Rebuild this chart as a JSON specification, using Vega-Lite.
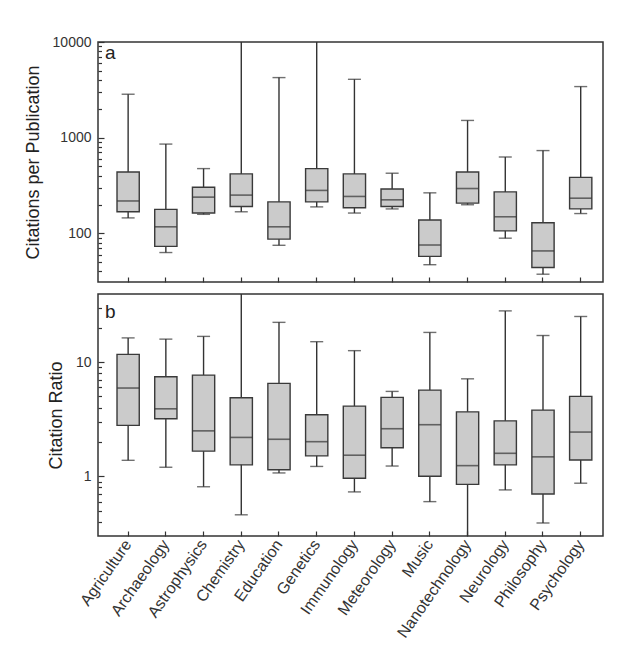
{
  "$schema": "https://vega.github.io/schema/vega-lite/v6.json",
  "padding": {"left": 23, "top": 34, "right": 30, "bottom": 5},
  "spacing": 9,
  "datasets": {
    "cites": [
      {"field": "Agriculture", "lower": 145, "q1": 168, "median": 218, "q3": 438, "upper": 2845},
      {"field": "Archaeology", "lower": 63, "q1": 73, "median": 117, "q3": 178, "upper": 857},
      {"field": "Astrophysics", "lower": 158, "q1": 163, "median": 239, "q3": 303, "upper": 475},
      {"field": "Chemistry", "lower": 168, "q1": 191, "median": 251, "q3": 418, "upper": 20000},
      {"field": "Education", "lower": 75, "q1": 87, "median": 117, "q3": 213, "upper": 4246},
      {"field": "Genetics", "lower": 189, "q1": 213, "median": 281, "q3": 475, "upper": 20000},
      {"field": "Immunology", "lower": 163, "q1": 185, "median": 243, "q3": 418, "upper": 4074},
      {"field": "Meteorology", "lower": 180, "q1": 191, "median": 224, "q3": 291, "upper": 425},
      {"field": "Music", "lower": 47, "q1": 57.5, "median": 75.5, "q3": 138, "upper": 265},
      {"field": "Nanotechnology", "lower": 199, "q1": 207, "median": 294, "q3": 438, "upper": 1514},
      {"field": "Neurology", "lower": 89, "q1": 106, "median": 149, "q3": 271, "upper": 628},
      {"field": "Philosophy", "lower": 37.4, "q1": 44, "median": 65.5, "q3": 129, "upper": 733},
      {"field": "Psychology", "lower": 161, "q1": 180, "median": 233, "q3": 385, "upper": 3420}
    ],
    "ratio": [
      {"field": "Agriculture", "lower": 1.38, "q1": 2.79, "median": 5.93, "q3": 11.7, "upper": 16.3},
      {"field": "Archaeology", "lower": 1.2, "q1": 3.19, "median": 3.9, "q3": 7.44, "upper": 15.9},
      {"field": "Astrophysics", "lower": 0.81, "q1": 1.66, "median": 2.5, "q3": 7.7, "upper": 16.8},
      {"field": "Chemistry", "lower": 0.46, "q1": 1.26, "median": 2.19, "q3": 4.87, "upper": 100},
      {"field": "Education", "lower": 1.07, "q1": 1.14, "median": 2.11, "q3": 6.51, "upper": 22.3},
      {"field": "Genetics", "lower": 1.22, "q1": 1.51, "median": 2.01, "q3": 3.46, "upper": 15.1},
      {"field": "Immunology", "lower": 0.73, "q1": 0.96, "median": 1.53, "q3": 4.12, "upper": 12.6},
      {"field": "Meteorology", "lower": 1.23, "q1": 1.78, "median": 2.61, "q3": 4.91, "upper": 5.54},
      {"field": "Music", "lower": 0.6, "q1": 1.0, "median": 2.83, "q3": 5.69, "upper": 18.2},
      {"field": "Nanotechnology", "lower": 0.1, "q1": 0.85, "median": 1.24, "q3": 3.67, "upper": 7.14},
      {"field": "Neurology", "lower": 0.76, "q1": 1.26, "median": 1.59, "q3": 3.06, "upper": 28.1},
      {"field": "Philosophy", "lower": 0.39, "q1": 0.7, "median": 1.48, "q3": 3.8, "upper": 17.1},
      {"field": "Psychology", "lower": 0.87, "q1": 1.39, "median": 2.44, "q3": 5.01, "upper": 25.1}
    ]
  },
  "vconcat": [
    {
      "width": 505,
      "height": 240,
      "data": {"name": "cites"},
      "title": {"text": "a", "anchor": "start", "frame": "group", "baseline": "top", "offset": -28, "dx": 7, "fontSize": 19, "fontWeight": "normal", "color": "#222"},
      "encoding": {
        "x": {
          "field": "field", "type": "nominal", "sort": null,
          "scale": {"paddingInner": 0.41, "paddingOuter": 0.4, "align": 0.63},
          "axis": {"labels": false, "title": null}
        }
      },
      "resolve": {"axis": {"y": "independent"}},
      "layer": [
        {
          "mark": {"type": "rule", "color": "#333", "strokeWidth": 1.4, "clip": true},
          "encoding": {
            "y": {
              "field": "lower", "type": "quantitative",
              "scale": {"type": "log", "domain": [31, 10000], "nice": false},
              "axis": {
                "title": "Citations per Publication",
                "orient": "left",
                "format": "d",
                "values": [100, 1000, 10000],
                "tickSize": -6
              }
            },
            "y2": {"field": "upper"}
          }
        },
        {
          "mark": {"type": "bar", "fill": "#cbcbcb", "stroke": "#3a3a3a", "strokeWidth": 1.4, "clip": true},
          "encoding": {
            "y": {
              "field": "q1", "type": "quantitative",
              "scale": {"type": "log", "domain": [31, 10000], "nice": false},
              "axis": {
                "title": null,
                "orient": "left",
                "labels": false,
                "values": [40, 50, 60, 70, 80, 90, 200, 300, 400, 500, 600, 700, 800, 900, 2000, 3000, 4000, 5000, 6000, 7000, 8000, 9000],
                "tickSize": -3.5
              }
            },
            "y2": {"field": "q3"}
          }
        },
        {
          "mark": {"type": "tick", "color": "#333", "thickness": 1.6, "size": 22, "clip": true},
          "encoding": {"y": {"field": "median", "type": "quantitative", "scale": {"type": "log", "domain": [31, 10000], "nice": false}, "axis": null}}
        },
        {
          "mark": {"type": "tick", "color": "#333", "thickness": 1.4, "size": 13, "clip": true},
          "encoding": {"y": {"field": "lower", "type": "quantitative", "scale": {"type": "log", "domain": [31, 10000], "nice": false}, "axis": null}}
        },
        {
          "mark": {"type": "tick", "color": "#333", "thickness": 1.4, "size": 13, "clip": true},
          "encoding": {"y": {"field": "upper", "type": "quantitative", "scale": {"type": "log", "domain": [31, 10000], "nice": false}, "axis": null}}
        }
      ]
    },
    {
      "width": 505,
      "height": 242,
      "data": {"name": "ratio"},
      "title": {"text": "b", "anchor": "start", "frame": "group", "baseline": "top", "offset": -28, "dx": 7, "fontSize": 19, "fontWeight": "normal", "color": "#222"},
      "encoding": {
        "x": {
          "field": "field", "type": "nominal", "sort": null,
          "scale": {"paddingInner": 0.41, "paddingOuter": 0.4, "align": 0.63},
          "axis": {"title": null, "labelAngle": -55, "labelAlign": "right", "labelBaseline": "middle", "labelFontSize": 16}
        }
      },
      "resolve": {"axis": {"y": "independent"}},
      "layer": [
        {
          "mark": {"type": "rule", "color": "#333", "strokeWidth": 1.4, "clip": true},
          "encoding": {
            "y": {
              "field": "lower", "type": "quantitative",
              "scale": {"type": "log", "domain": [0.3, 39.5], "nice": false},
              "axis": {
                "title": "Citation Ratio",
                "orient": "left",
                "format": "~g",
                "values": [1, 10],
                "tickSize": -6
              }
            },
            "y2": {"field": "upper"}
          }
        },
        {
          "mark": {"type": "bar", "fill": "#cbcbcb", "stroke": "#3a3a3a", "strokeWidth": 1.4, "clip": true},
          "encoding": {
            "y": {
              "field": "q1", "type": "quantitative",
              "scale": {"type": "log", "domain": [0.3, 39.5], "nice": false},
              "axis": {
                "title": null,
                "orient": "left",
                "labels": false,
                "values": [0.4, 0.5, 0.6, 0.7, 0.8, 0.9, 2, 3, 4, 5, 6, 7, 8, 9, 20, 30],
                "tickSize": -3.5
              }
            },
            "y2": {"field": "q3"}
          }
        },
        {
          "mark": {"type": "tick", "color": "#333", "thickness": 1.6, "size": 22, "clip": true},
          "encoding": {"y": {"field": "median", "type": "quantitative", "scale": {"type": "log", "domain": [0.3, 39.5], "nice": false}, "axis": null}}
        },
        {
          "mark": {"type": "tick", "color": "#333", "thickness": 1.4, "size": 13, "clip": true},
          "encoding": {"y": {"field": "lower", "type": "quantitative", "scale": {"type": "log", "domain": [0.3, 39.5], "nice": false}, "axis": null}}
        },
        {
          "mark": {"type": "tick", "color": "#333", "thickness": 1.4, "size": 13, "clip": true},
          "encoding": {"y": {"field": "upper", "type": "quantitative", "scale": {"type": "log", "domain": [0.3, 39.5], "nice": false}, "axis": null}}
        }
      ]
    }
  ],
  "config": {
    "font": "Liberation Sans",
    "view": {"stroke": "#333", "strokeWidth": 1.5},
    "axis": {
      "domain": false,
      "grid": false,
      "labelFont": "Liberation Sans",
      "labelColor": "#333",
      "labelFontSize": 14,
      "tickColor": "#333",
      "tickWidth": 1.2,
      "titleFont": "Liberation Sans",
      "titleFontSize": 18,
      "titleFontWeight": "normal",
      "titleColor": "#222"
    },
    "axisX": {"tickSize": -5, "labelPadding": 10},
    "axisY": {"labelPadding": 13, "titlePadding": 10}
  }
}
